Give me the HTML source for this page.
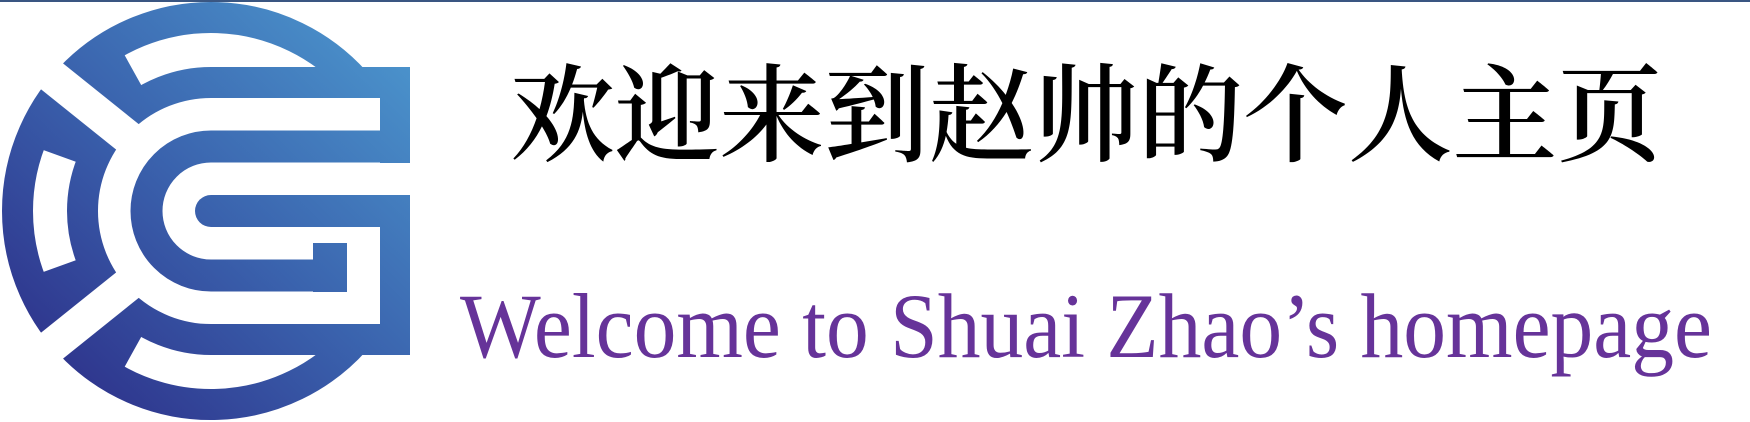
<!DOCTYPE html>
<html><head><meta charset="utf-8"><style>
html,body{margin:0;padding:0;background:#fff;}
#wrap{position:relative;width:1750px;height:422px;overflow:hidden;background:#fff;}
</style></head><body>
<div id="wrap">
<svg width="1750" height="422" viewBox="0 0 1750 422">
<defs>
<linearGradient id="lg" gradientUnits="userSpaceOnUse" x1="30" y1="410" x2="400" y2="20">
<stop offset="0" stop-color="#2c2b86"/>
<stop offset="0.5" stop-color="#3a62ad"/>
<stop offset="1" stop-color="#4c97ce"/>
</linearGradient>
</defs>
<rect x="0" y="0" width="1750" height="2" fill="#3a5682"/>
<g id="logo"></g>
<text x="510" y="153" font-family="'Liberation Serif','Noto Serif CJK SC',serif" font-size="106" font-weight="600" fill="#000" textLength="1152" lengthAdjust="spacingAndGlyphs">欢迎来到赵帅的个人主页</text>
<text x="460" y="357" font-family="'Liberation Serif',serif" font-size="92" fill="#663399" textLength="1252" lengthAdjust="spacingAndGlyphs">Welcome to Shuai Zhao’s homepage</text>
</svg>
</div>
<script>
const NS='http://www.w3.org/2000/svg';
const g=document.getElementById('logo');
const cx=211,cy=211;
function P(a,r){const t=a*Math.PI/180;return [cx+r*Math.cos(t),cy-r*Math.sin(t)];}
function arc(a1,a2,r){const p=P(a1,r),q=P(a2,r);const large=(a2-a1)>180?1:0;return `M${p[0]} ${p[1]} A${r} ${r} 0 ${large} 0 ${q[0]} ${q[1]}`;}
function path(d,stroke,sw,name){const e=document.createElementNS(NS,'path');e.setAttribute('d',d);e.setAttribute('fill','none');e.setAttribute('stroke',stroke);e.setAttribute('stroke-width',sw);


g.appendChild(e);}
function rect(x,y,w,h,fill,name){const e=document.createElementNS(NS,'rect');e.setAttribute('x',x);e.setAttribute('y',y);e.setAttribute('width',w);e.setAttribute('height',h);e.setAttribute('fill',fill);


g.appendChild(e);}
const B='url(#lg)';
path(arc(42,318,193.5),B,31,'logo-outer-ring');
path(arc(119,160,161),B,35,'logo-upper-joiner');
path(arc(200,241,161),B,35,'logo-lower-joiner');
path('M380 82.5 H211 A128.5 128.5 0 0 0 211 339.5 H380',B,31,'logo-middle-ring');
path('M410 146.5 H211 A64.5 64.5 0 0 0 211 275.5 H347',B,32,'logo-inner-ring');
rect(313,243,34,49,B,'logo-hook');
rect(211,195,199,32,B,'logo-center-bar');
const c=document.createElementNS(NS,'circle');c.setAttribute('cx',211);c.setAttribute('cy',211);c.setAttribute('r',16);c.setAttribute('fill',B);


g.appendChild(c);
rect(380,67,30,96,B,'logo-right-upper-bar');
rect(380,195,30,160,B,'logo-right-lower-bar');
path('M36 63.5 L129.5 138.5','#fff',34,'logo-upper-cut');
path('M36 358.5 L129.5 283.5','#fff',34,'logo-lower-cut');
</script>
</body></html>
